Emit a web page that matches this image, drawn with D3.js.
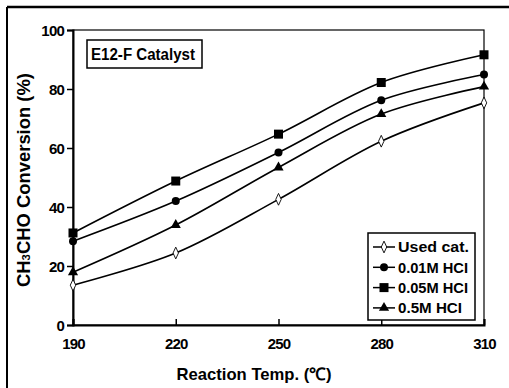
<!DOCTYPE html>
<html>
<head>
<meta charset="utf-8">
<script src="https://cdn.jsdelivr.net/npm/d3@7"></script>
<style>
  body { margin: 0; background: #fff; }
  text { font-family: "Liberation Sans", Arial, sans-serif; fill: #000; }
</style>
</head>
<body>
<script>
const width = 509;
const height = 388;

// data
const temps = [190, 220, 250, 280, 310];
const usedCat = [13.5, 24.4, 42.6, 62.3, 75.3];
const hcl001 = [28.4, 42.0, 58.5, 76.2, 84.9];
const hcl005 = [31.2, 48.8, 64.7, 82.2, 91.6];
const hcl05 = [17.9, 33.9, 53.4, 71.5, 80.8];
const yTicks = [0, 20, 40, 60, 80, 100];

const series = [
  { name: 'Used cat.', values: usedCat, marker: 'diamond', w: 71 },
  { name: '0.01M HCI', values: hcl001, marker: 'circle', w: 70 },
  { name: '0.05M HCI', values: hcl005, marker: 'square', w: 70 },
  { name: '0.5M HCI', values: hcl05, marker: 'triangle', w: 64 }
];

const svg = d3.select('body')
  .append('svg')
  .attr('width', width)
  .attr('height', height);

// outer frame (top + left only, like the scan)
svg.append('line').attr('x1', 7).attr('x2', width).attr('y1', 7).attr('y2', 7)
  .attr('stroke', '#000').attr('stroke-width', 2.5);
svg.append('line').attr('x1', 7).attr('x2', 7).attr('y1', 7).attr('y2', height)
  .attr('stroke', '#000').attr('stroke-width', 2);

const x = d3.scaleLinear().domain([190, 310]).range([73, 484]);
const y = d3.scaleLinear().domain([0, 100]).range([325, 30]);

// plot box
svg.append('rect')
  .attr('x', x(190)).attr('y', y(100))
  .attr('width', x(310) - x(190)).attr('height', y(0) - y(100))
  .attr('fill', 'none').attr('stroke', '#000').attr('stroke-width', 1.2);

// y axis
const yAxis = svg.append('g')
  .attr('transform', `translate(${x(190)},0)`)
  .call(d3.axisLeft(y).tickValues(yTicks).tickSize(6).tickPadding(3));
yAxis.select('.domain').attr('stroke-width', 2);
yAxis.selectAll('line').attr('stroke-width', 1.5);
yAxis.selectAll('text')
  .style('font-size', '15px').style('font-weight', 'bold')
  .attr('letter-spacing', '-0.8')
  .attr('dy', '0.35em');

// x axis, ticks pointing inwards
const xAxis = svg.append('g')
  .attr('transform', `translate(0,${y(0)})`)
  .call(d3.axisBottom(x).tickValues(temps).tickSize(-6).tickPadding(13));
xAxis.select('.domain').attr('stroke-width', 2);
xAxis.selectAll('line').attr('stroke-width', 1.5);
xAxis.selectAll('text')
  .style('font-size', '15px').style('font-weight', 'bold')
  .attr('letter-spacing', '-0.8');

// axis titles
svg.append('text')
  .attr('x', 254).attr('y', 380)
  .attr('text-anchor', 'middle')
  .style('font-size', '17px').style('font-weight', 'bold')
  .attr('textLength', 155).attr('lengthAdjust', 'spacingAndGlyphs')
  .text('Reaction Temp. (\u2103)');

const yTitle = svg.append('text')
  .attr('transform', 'translate(30,180) rotate(-90)')
  .attr('text-anchor', 'middle')
  .style('font-size', '18px').style('font-weight', 'bold')
  .attr('textLength', 214).attr('lengthAdjust', 'spacingAndGlyphs');
yTitle.append('tspan').text('CH');
yTitle.append('tspan').style('font-size', '11px').text('3');
yTitle.append('tspan').text('CHO Conversion (%)');

// lines
const line = d3.line()
  .x((d, i) => x(temps[i]))
  .y(d => y(d))
  .curve(d3.curveCatmullRom.alpha(0.5));

svg.selectAll('path.series')
  .data(series)
  .join('path')
  .attr('class', 'series')
  .attr('d', d => line(d.values))
  .attr('fill', 'none')
  .attr('stroke', '#000')
  .attr('stroke-width', 1.6);

function drawMarker(g, type) {
  if (type === 'diamond') {
    g.append('path').attr('d', d3.symbol(d3.symbolDiamond, 40)())
      .attr('transform', 'scale(0.8,1)')
      .attr('fill', '#fff').attr('stroke', '#000').attr('stroke-width', 1);
  } else if (type === 'circle') {
    g.append('circle').attr('r', 4).attr('fill', '#000');
  } else if (type === 'square') {
    g.append('rect').attr('x', -4.5).attr('y', -4.5).attr('width', 9).attr('height', 9).attr('fill', '#000');
  } else {
    g.append('path').attr('d', d3.symbol(d3.symbolTriangle, 45)()).attr('fill', '#000');
  }
}

series.forEach(s => {
  s.values.forEach((v, i) => {
    const g = svg.append('g').attr('transform', `translate(${x(temps[i])},${y(v)})`);
    drawMarker(g, s.marker);
  });
});

// title box
svg.append('rect')
  .attr('x', 87).attr('y', 40).attr('width', 115).attr('height', 28)
  .attr('fill', '#fff').attr('stroke', '#000').attr('stroke-width', 1.5);
svg.append('text')
  .attr('x', 91).attr('y', 60)
  .style('font-size', '16px').style('font-weight', 'bold')
  .attr('textLength', 104).attr('lengthAdjust', 'spacingAndGlyphs')
  .text('E12-F Catalyst');

// legend
const legend = svg.append('g');
legend.append('rect')
  .attr('x', 368).attr('y', 233).attr('width', 107).attr('height', 87)
  .attr('fill', '#fff').attr('stroke', '#000').attr('stroke-width', 1.5);

const items = legend.selectAll('g.item')
  .data(series)
  .join('g')
  .attr('class', 'item')
  .attr('transform', (d, i) => `translate(373,${247 + i * 20.3})`);
items.append('line')
  .attr('x1', 0).attr('x2', 22)
  .attr('stroke', '#000').attr('stroke-width', 1.5);
items.each(function (d) {
  const g = d3.select(this).append('g').attr('transform', 'translate(11,0)');
  drawMarker(g, d.marker);
});
items.append('text')
  .attr('x', 25).attr('dy', '0.36em')
  .style('font-size', '15px').style('font-weight', 'bold')
  .attr('textLength', d => d.w).attr('lengthAdjust', 'spacingAndGlyphs')
  .text(d => d.name);
</script>
</body>
</html>
